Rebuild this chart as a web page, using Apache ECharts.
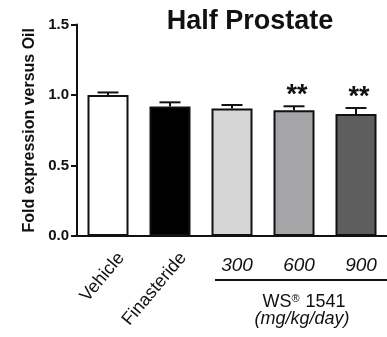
<!DOCTYPE html>
<html>
<head>
<meta charset="utf-8">
<script src="https://cdn.jsdelivr.net/npm/echarts@6/dist/echarts.min.js"></script>
<style>html,body{margin:0;padding:0;background:#fff;}#c{width:387px;height:337px;}</style>
</head>
<body>
<div id="c"></div>
<script>
const categories = ['Vehicle', 'Finasteride', '300', '600', '900'];
const rotatedLabels = ['Vehicle', 'Finasteride', '', '', ''];
const doseLabels = ['', '', '300', '600', '900'];
const means = [1.00, 0.918, 0.904, 0.892, 0.865];
const sems = [0.018, 0.030, 0.025, 0.028, 0.043];
const stars = ['', '', '', '**', '**'];
const barColors = ['#ffffff', '#000000', '#d6d6d6', '#a5a5a8', '#5e5e5e'];
const yMin = 0, yMax = 1.5, yStep = 0.5;

const FONT = '"Liberation Sans", Arial, sans-serif';
const chart = echarts.init(document.getElementById('c'), null, {renderer: 'canvas'});

chart.setOption({
  animation: false,
  backgroundColor: '#fff',
  title: {
    text: 'Half Prostate',
    left: 245, top: 3, textAlign: 'center',
    textStyle: {fontFamily: FONT, fontSize: 27, fontWeight: 'bold', color: '#111'}
  },
  grid: {left: 77, right: -8, top: 24.5, bottom: 101, containLabel: false},
  xAxis: [{
    type: 'category', data: categories, position: 'bottom',
    axisLine: {lineStyle: {color: '#111', width: 2}},
    axisTick: {alignWithLabel: true, length: 5, lineStyle: {color: '#111', width: 2}},
    axisLabel: {
      interval: 0, rotate: 50, margin: 8, verticalAlign: 'top', align: 'right',
      padding: [8, 0, 0, 0],
      fontFamily: FONT, fontSize: 18, color: '#111',
      formatter: (v, i) => rotatedLabels[i]
    }
  }, {
    type: 'category', data: categories, position: 'bottom', offset: 0,
    axisLine: {show: false}, axisTick: {show: false},
    axisLabel: {
      interval: 0, margin: 20, padding: [0, 0, 0, 10],
      fontFamily: FONT, fontSize: 19, fontStyle: 'italic', color: '#111',
      formatter: (v, i) => doseLabels[i]
    }
  }],
  yAxis: {
    type: 'value', min: yMin, max: yMax, interval: yStep,
    name: 'Fold expression versus Oil', nameLocation: 'middle', nameGap: 36,
    nameTextStyle: {fontFamily: FONT, fontSize: 16, fontWeight: 'bold', color: '#111'},
    axisLine: {show: true, lineStyle: {color: '#111', width: 2}},
    axisTick: {show: true, length: 6, lineStyle: {color: '#111', width: 2}},
    splitLine: {show: false},
    axisLabel: {
      margin: 8, fontFamily: FONT, fontSize: 15, fontWeight: 'bold', color: '#111',
      formatter: v => v.toFixed(1)
    }
  },
  series: [{
    type: 'bar', xAxisIndex: 0, barWidth: 41,
    data: means.map((m, i) => ({value: m, itemStyle: {color: barColors[i]}})),
    itemStyle: {borderColor: '#111', borderWidth: 2},
    z: 2
  }, {
    type: 'custom', xAxisIndex: 0, z: 3,
    data: means.map((m, i) => [i, m, sems[i]]),
    renderItem: function (params, api) {
      const i = api.value(0);
      const top = api.coord([i, api.value(1)]);
      const cap = api.coord([i, api.value(1) + api.value(2)]);
      const hw = 10.5;
      const children = [
        {type: 'line', shape: {x1: top[0], y1: top[1], x2: cap[0], y2: cap[1]}, style: {stroke: '#111', lineWidth: 2}},
        {type: 'line', shape: {x1: cap[0] - hw, y1: cap[1], x2: cap[0] + hw, y2: cap[1]}, style: {stroke: '#111', lineWidth: 2}}
      ];
      const s = stars[params.dataIndex];
      if (s) {
        children.push({type: 'text', style: {
          text: s, x: cap[0] + 3, y: cap[1] - 24, align: 'center', verticalAlign: 'top',
          font: 'bold 27px ' + FONT, fill: '#111'
        }});
      }
      return {type: 'group', children: children};
    }
  }],
  graphic: [
    {type: 'line', shape: {x1: 215, y1: 280, x2: 387, y2: 280}, style: {stroke: '#111', lineWidth: 2}},
    {type: 'text', x: 304, y: 302, style: {
      text: '{a|WS}{s|®}{a| 1541}', align: 'center', verticalAlign: 'middle',
      rich: {a: {fontFamily: FONT, fontSize: 18, fill: '#111', color: '#111'}, s: {fontFamily: FONT, fontSize: 11, color: '#111', fill: '#111', verticalAlign: 'top', padding: [0, 1, 7, 0]}}
    }},
    {type: 'text', x: 302, y: 319, style: {
      text: '(mg/kg/day)', align: 'center', verticalAlign: 'middle',
      font: 'italic 18px ' + FONT, fill: '#111'
    }}
  ]
});
</script>
</body>
</html>
